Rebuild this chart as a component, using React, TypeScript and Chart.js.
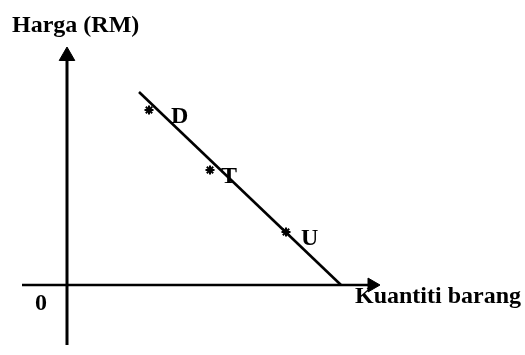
import React, { useEffect, useRef } from "react";
import { Chart, registerables } from "chart.js";

Chart.register(...registerables);

// ---- data (abstract units; origin at 0,0) ----
const demandX = [7.2, 27.4];
const demandY = [19.3, 0];
const pointNames = ["D", "T", "U"];
const pointX = [8.2, 14.3, 21.9];
const pointY = [17.5, 11.5, 5.3];
const xAxisFrom = -4.5;
const xAxisTo = 30.5;
const yAxisFrom = -6.0;
const yAxisTo = 22.9;
const xTitle = "Kuantiti barang";
const yTitle = "Harga (RM)";
const originLabel = "0";

// ---- styles ----
const FONT = "bold 24px 'Liberation Serif', 'Times New Roman', serif";
const labelDx = [22, 11, 15];
const labelDy = 13;

const textPlugin = {
  id: "textLabels",
  afterDatasetsDraw(chart: any) {
    const ctx = chart.ctx as CanvasRenderingContext2D;
    const xs = chart.scales.x;
    const ys = chart.scales.y;
    ctx.save();
    ctx.fillStyle = "#000";
    ctx.font = FONT;
    ctx.textBaseline = "alphabetic";
    ctx.textAlign = "left";
    pointNames.forEach((n, i) => {
      const px = xs.getPixelForValue(pointX[i]);
      const py = ys.getPixelForValue(pointY[i]);
      ctx.fillText(n, px + labelDx[i], py + labelDy);
    });
    const yTipX = xs.getPixelForValue(0);
    const yTipY = ys.getPixelForValue(yAxisTo);
    ctx.fillText(yTitle, yTipX - 55, yTipY - 24);
    const xTipX = xs.getPixelForValue(xAxisTo);
    const xTipY = ys.getPixelForValue(0);
    ctx.fillText(xTitle, xTipX - 17, xTipY + 18);
    const ox = xs.getPixelForValue(0);
    const oy = ys.getPixelForValue(0);
    ctx.fillText(originLabel, ox - 32, oy + 25);
    ctx.restore();
  },
};

export default function App() {
  const ref = useRef<HTMLCanvasElement | null>(null);
  useEffect(() => {
    if (!ref.current) return;
    const chart = new Chart(ref.current, {
      type: "scatter",
      data: {
        datasets: [
          {
            label: "xaxis",
            data: [
              { x: xAxisFrom, y: 0 },
              { x: xAxisTo, y: 0 },
            ],
            showLine: true,
            borderColor: "#000",
            backgroundColor: "#000",
            borderWidth: 2.5,
            pointRadius: [0, 8],
            pointStyle: "triangle",
            pointRotation: [0, 90],
            pointBorderWidth: 1,
          },
          {
            label: "yaxis",
            data: [
              { x: 0, y: yAxisFrom },
              { x: 0, y: yAxisTo },
            ],
            showLine: true,
            borderColor: "#000",
            backgroundColor: "#000",
            borderWidth: 3,
            pointRadius: [0, 9],
            pointStyle: "triangle",
            pointRotation: [0, 0],
            pointBorderWidth: 1,
          },
          {
            label: "demand",
            data: demandX.map((x, i) => ({ x, y: demandY[i] })),
            showLine: true,
            borderColor: "#000",
            borderWidth: 2.6,
            pointRadius: 0,
          },
          {
            label: "points",
            data: pointX.map((x, i) => ({ x, y: pointY[i] })),
            showLine: false,
            pointStyle: "star",
            pointRadius: 4.5,
            borderColor: "#000",
            backgroundColor: "#000",
            pointBorderWidth: 2,
          },
        ],
      },
      options: {
        animation: false,
        responsive: false,
        layout: { padding: 0, autoPadding: false },
        plugins: { legend: { display: false }, tooltip: { enabled: false } },
        scales: {
          x: { type: "linear", display: false, min: -6.7, max: 45.8 },
          y: { type: "linear", display: false, min: -7.0, max: 28.5 },
        },
      },
      plugins: [textPlugin],
    });
    return () => chart.destroy();
  }, []);
  return (
    <div style={{ position: "absolute", left: 0, top: 0, width: 525, height: 355, background: "#fff" }}>
      <canvas ref={ref} width={525} height={355} style={{ display: "block" }} />
    </div>
  );
}
